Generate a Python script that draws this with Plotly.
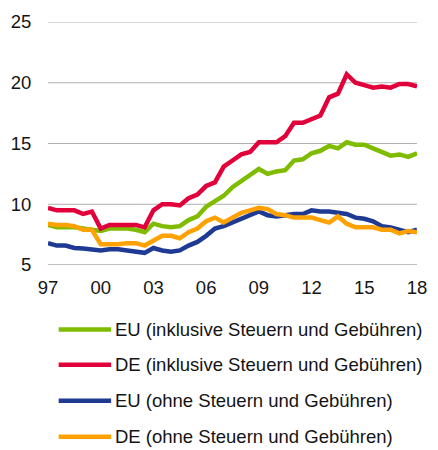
import plotly.graph_objects as go

# Half-yearly observations, 1997 S1 ... 2018 S1
periods = [1997 + i / 2 for i in range(43)]

eu_incl = [8.3, 8.1, 8.1, 8.1, 8.0, 7.9, 7.8, 8.0, 8.0, 8.0, 7.9, 7.7, 8.4, 8.2, 8.1, 8.2,
           8.7, 9.0, 9.8, 10.3, 10.7, 11.4, 11.9, 12.5, 12.9, 12.5, 12.7, 12.8, 13.6, 13.7,
           14.2, 14.4, 14.8, 14.6, 15.1, 14.9, 14.9, 14.6, 14.3, 14.0, 14.1, 13.9, 14.2]
de_incl = [9.7, 9.5, 9.5, 9.5, 9.2, 9.4, 8.0, 8.3, 8.3, 8.3, 8.3, 8.1, 9.5, 10.0, 10.0, 9.9,
           10.5, 10.8, 11.5, 11.8, 13.1, 13.6, 14.1, 14.3, 15.1, 15.1, 15.1, 15.6, 16.7, 16.7,
           17.0, 17.3, 18.8, 19.1, 20.7, 20.0, 19.8, 19.6, 19.7, 19.6, 19.9, 19.9, 19.7]
eu_excl = [6.8, 6.6, 6.6, 6.4, 6.35, 6.3, 6.2, 6.3, 6.3, 6.2, 6.1, 6.0, 6.4, 6.2, 6.1, 6.2,
           6.6, 6.9, 7.4, 8.0, 8.2, 8.5, 8.8, 9.1, 9.4, 9.1, 9.0, 9.1, 9.2, 9.2,
           9.5, 9.4, 9.4, 9.3, 9.2, 8.9, 8.8, 8.6, 8.2, 8.1, 7.9, 7.7, 7.9]
de_excl = [8.4, 8.3, 8.3, 8.2, 7.9, 7.9, 6.7, 6.7, 6.7, 6.8, 6.8, 6.6, 7.0, 7.4, 7.4, 7.2,
           7.7, 8.0, 8.6, 8.9, 8.5, 8.9, 9.3, 9.5, 9.7, 9.6, 9.2, 9.1, 8.9, 8.9,
           8.9, 8.7, 8.5, 9.0, 8.4, 8.1, 8.1, 8.1, 7.9, 7.9, 7.6, 7.8, 7.7]

series_names = ["EU (inklusive Steuern und Gebühren)",
                "DE (inklusive Steuern und Gebühren)",
                "EU (ohne Steuern und Gebühren)",
                "DE (ohne Steuern und Gebühren)"]
series_values = [eu_incl, de_incl, eu_excl, de_excl]
colors = ["#7fbc00", "#e2003b", "#1f3a93", "#ffa100"]

x_tickvals = [1997, 2000, 2003, 2006, 2009, 2012, 2015, 2018]
x_ticktext = ["97", "00", "03", "06", "09", "12", "15", "18"]
y_tickvals = [5, 10, 15, 20, 25]

FONT = "Liberation Sans, Arial, sans-serif"
TXT = "#141414"
FS = 18.5

fig = go.Figure()
for name, vals, col in zip(series_names, series_values, colors):
    fig.add_trace(go.Scatter(x=periods, y=vals, mode="lines", name=name,
                             line=dict(color=col, width=4.5), cliponaxis=False,
                             showlegend=False))

shapes = []
# horizontal gridlines at the y ticks (bottom one darker, acting as axis line)
for v in y_tickvals:
    shapes.append(dict(type="line", xref="paper", yref="y", x0=0, x1=1, y0=v, y1=v,
                       layer="below",
                       line=dict(color="#808080" if v == y_tickvals[0] else "#b0b0b0",
                                 width=1)))

# custom legend below the plot
annotations = []
plot_left, plot_right, plot_top, plot_bottom = 47, 427, 18, 265
pw = plot_right - plot_left
ph = plot_bottom - plot_top
legend_y = [330.5, 366.5, 403, 439.5]
for name, col, yy in zip(series_names, colors, legend_y):
    py = (plot_bottom - yy) / ph
    shapes.append(dict(type="line", xref="paper", yref="paper",
                       x0=(58 - plot_left) / pw, x1=(112 - plot_left) / pw,
                       y0=py, y1=py, line=dict(color=col, width=4.5)))
    annotations.append(dict(xref="paper", yref="paper", x=(114 - plot_left) / pw, y=py,
                            text=name, showarrow=False, xanchor="left", yanchor="middle",
                            font=dict(family=FONT, size=FS, color=TXT)))

fig.update_layout(
    width=438, height=450,
    margin=dict(l=plot_left, r=438 - plot_right, t=plot_top, b=450 - plot_bottom),
    plot_bgcolor="white", paper_bgcolor="white",
    font=dict(family=FONT, size=FS, color=TXT),
    shapes=shapes, annotations=annotations,
    xaxis=dict(range=[1997, 2018], tickvals=x_tickvals, ticktext=x_ticktext,
               showgrid=False, zeroline=False, showline=False,
               ticks="outside", ticklen=6, tickcolor="rgba(0,0,0,0)",
               tickfont=dict(family=FONT, size=FS, color=TXT)),
    yaxis=dict(range=[5, 25], tickvals=y_tickvals, showgrid=False,
               zeroline=False, showline=False,
               ticks="outside", ticklen=12, tickcolor="rgba(0,0,0,0)",
               tickfont=dict(family=FONT, size=FS, color=TXT)),
)

fig.write_html("out.html", config={"displayModeBar": False},
               post_script="document.body.style.margin='0px';")
